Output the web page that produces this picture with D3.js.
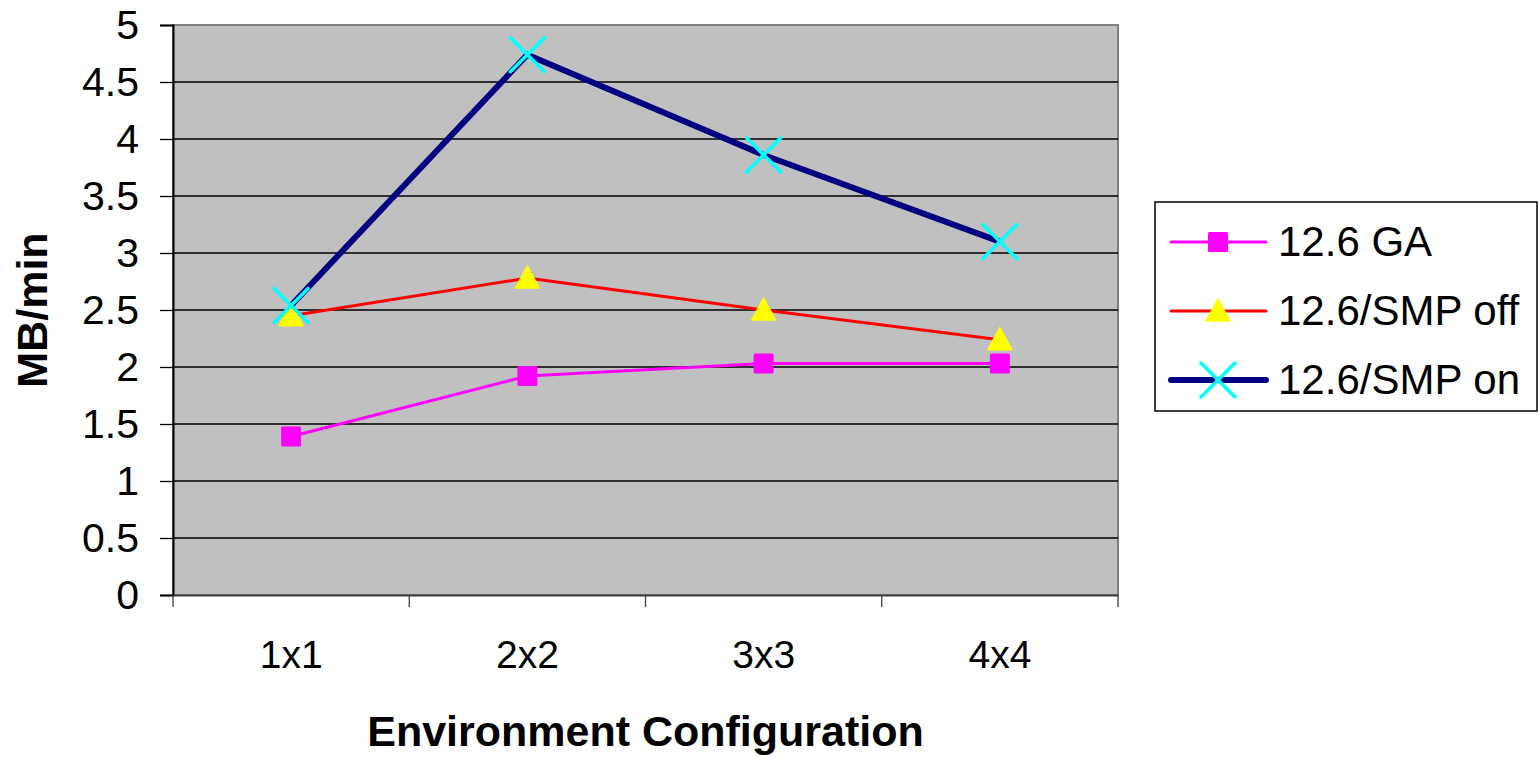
<!DOCTYPE html>
<html>
<head>
<meta charset="utf-8">
<script src="https://cdn.jsdelivr.net/npm/d3@7"></script>
<style>
  body { margin: 0; background: #fff; }
  text { font-family: "Liberation Sans", Arial, sans-serif; }
</style>
</head>
<body>
<div id="chart"></div>
<script>
// data
const categories = ['1x1', '2x2', '3x3', '4x4']
const gaValues = [1.39, 1.92, 2.03, 2.03]
const smpOffValues = [2.45, 2.78, 2.50, 2.24]
const smpOnValues = [2.54, 4.74, 3.86, 3.10]
const yTicks = [0, 0.5, 1, 1.5, 2, 2.5, 3, 3.5, 4, 4.5, 5]
const seriesNames = ['12.6 GA', '12.6/SMP off', '12.6/SMP on']

const width = 1539,
  height = 757
const plot = { left: 173, right: 1118, top: 25, bottom: 595 }

const series = [
  { name: seriesNames[0], values: gaValues, stroke: '#ff00ff', width: 3, marker: 'square', fill: '#ff00ff' },
  { name: seriesNames[1], values: smpOffValues, stroke: '#ff0000', width: 3, marker: 'triangle', fill: '#ffff00' },
  { name: seriesNames[2], values: smpOnValues, stroke: '#000080', width: 6, marker: 'cross', fill: '#00ffff' }
]

const svg = d3.select('#chart')
  .append('svg')
  .attr('width', width)
  .attr('height', height)

const x = d3.scaleBand()
  .domain(categories)
  .range([plot.left, plot.right])

const y = d3.scaleLinear()
  .domain([0, 5])
  .range([plot.bottom, plot.top])

// plot background
svg.append('rect')
  .attr('x', plot.left)
  .attr('y', plot.top)
  .attr('width', plot.right - plot.left)
  .attr('height', plot.bottom - plot.top)
  .attr('fill', '#c0c0c0')
  .attr('stroke', '#808080')
  .attr('stroke-width', 2)

// gridlines
svg.append('g')
  .selectAll('line')
  .data(yTicks.slice(1, -1))
  .enter()
  .append('line')
  .attr('x1', plot.left)
  .attr('x2', plot.right)
  .attr('y1', d => y(d))
  .attr('y2', d => y(d))
  .attr('stroke', '#000')
  .attr('stroke-width', 1.3)

// y axis
const yAxis = svg.append('g')
  .attr('transform', `translate(${plot.left},0)`)
  .call(d3.axisLeft(y).tickValues(yTicks).tickSize(13).tickPadding(21).tickFormat(d3.format('')))
yAxis.select('.domain').attr('stroke', '#000').attr('stroke-width', 2)
yAxis.selectAll('.tick line').attr('stroke', '#000').attr('stroke-width', 1.3)
yAxis.selectAll('text').attr('font-size', 41).attr('fill', '#000')

// x axis
const xAxis = svg.append('g')
  .attr('transform', `translate(0,${plot.bottom})`)
  .call(d3.axisBottom(x).tickSize(0).tickPadding(45))
xAxis.select('.domain').attr('stroke', '#404040').attr('stroke-width', 2)
xAxis.selectAll('text').attr('font-size', 39).attr('fill', '#000')

// x tick marks on category boundaries
const bounds = categories.map(c => x(c)).concat([x.range()[1]])
svg.append('g')
  .selectAll('line')
  .data(bounds)
  .enter()
  .append('line')
  .attr('x1', d => d)
  .attr('x2', d => d)
  .attr('y1', plot.bottom)
  .attr('y2', plot.bottom + 12)
  .attr('stroke', '#404040')
  .attr('stroke-width', 1.3)

// axis titles
svg.append('text')
  .attr('x', (plot.left + plot.right) / 2)
  .attr('y', 746)
  .attr('text-anchor', 'middle')
  .attr('font-size', 43)
  .attr('font-weight', 'bold')
  .text('Environment Configuration')

svg.append('text')
  .attr('transform', `translate(47,${(plot.top + plot.bottom) / 2}) rotate(-90)`)
  .attr('text-anchor', 'middle')
  .attr('font-size', 43)
  .attr('font-weight', 'bold')
  .text('MB/min')

// marker drawing
let drawMarker = (g, s, cx, cy) => {
  if (s.marker === 'square') {
    g.append('rect')
      .attr('x', cx - 10).attr('y', cy - 10)
      .attr('width', 20).attr('height', 20)
      .attr('rx', 1.5)
      .attr('fill', s.fill)
  } else if (s.marker === 'triangle') {
    g.append('path')
      .attr('d', `M${cx},${cy - 12}L${cx + 12},${cy + 10}L${cx - 12},${cy + 10}Z`)
      .attr('fill', s.fill)
      .attr('stroke', s.fill)
      .attr('stroke-linejoin', 'round')
      .attr('stroke-width', 1.5)
  } else {
    g.append('path')
      .attr('d', `M${cx - 17},${cy - 17}L${cx + 17},${cy + 17}M${cx - 17},${cy + 17}L${cx + 17},${cy - 17}`)
      .attr('stroke', s.fill)
      .attr('stroke-width', 3.5)
      .attr('stroke-linecap', 'round')
  }
}

const line = d3.line()
  .x((d, i) => x(categories[i]) + x.bandwidth() / 2)
  .y(d => y(d))

series.forEach(s => {
  const g = svg.append('g')
  g.append('path')
    .datum(s.values)
    .attr('d', line)
    .attr('fill', 'none')
    .attr('stroke', s.stroke)
    .attr('stroke-width', s.width)
    .attr('stroke-linejoin', 'round')
  s.values.forEach((v, i) => {
    drawMarker(g, s, x(categories[i]) + x.bandwidth() / 2, y(v))
  })
})

// legend
const legend = svg.append('g')
legend.append('rect')
  .attr('x', 1155)
  .attr('y', 202)
  .attr('width', 382)
  .attr('height', 209)
  .attr('fill', '#fff')
  .attr('stroke', '#000')
  .attr('stroke-width', 1.5)

series.forEach((s, i) => {
  const ly = 242 + i * 69
  const g = legend.append('g')
  g.append('line')
    .attr('x1', 1171).attr('x2', 1266)
    .attr('y1', ly).attr('y2', ly)
    .attr('stroke', s.stroke)
    .attr('stroke-width', s.width)
    .attr('stroke-linecap', 'round')
  drawMarker(g, s, 1218, ly)
  g.append('text')
    .attr('x', 1278)
    .attr('y', ly + 14)
    .attr('font-size', 42)
    .text(s.name)
})
</script>
</body>
</html>
